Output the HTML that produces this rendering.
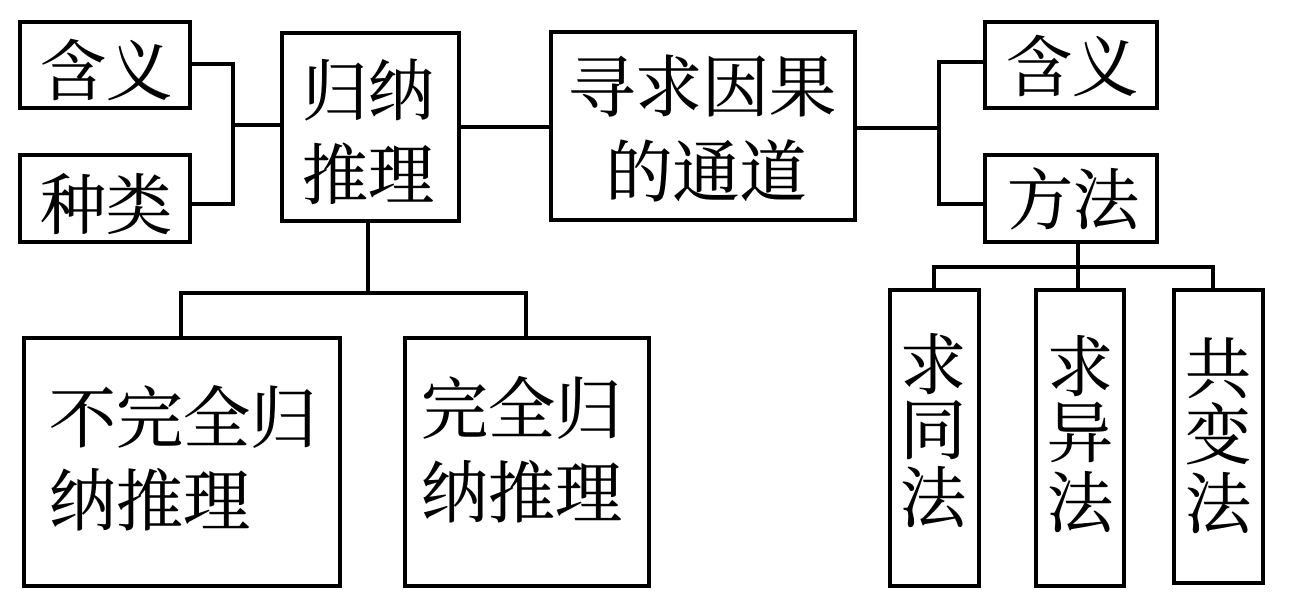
<!DOCTYPE html>
<html><head><meta charset="utf-8"><style>
html,body{margin:0;padding:0;background:#fff;width:1292px;height:615px;overflow:hidden}
svg text{font-family:"Noto Serif CJK SC","Liberation Serif",serif;font-weight:normal;fill:#000;stroke:#000;stroke-width:0.5px;dominant-baseline:central}
.c{text-anchor:middle}
</style></head><body>
<svg width="1292" height="615" viewBox="0 0 1292 615" xmlns="http://www.w3.org/2000/svg">
<g fill="none" stroke="#000" stroke-width="4">
<rect x="20" y="22" width="170" height="86"/>
<rect x="20" y="155" width="170" height="87"/>
<rect x="282" y="33" width="177" height="188"/>
<rect x="551" y="32" width="304" height="188"/>
<rect x="24" y="338" width="316" height="248"/>
<rect x="405" y="338" width="244" height="248"/>
<rect x="985" y="22" width="172" height="86"/>
<rect x="985" y="155" width="172" height="87"/>
<rect x="890" y="290" width="89" height="296"/>
<rect x="1036" y="290" width="88" height="296"/>
<rect x="1174" y="290" width="89" height="293"/>
<polyline points="190,64 233,64 233,204 190,204"/>
<line x1="233" y1="125" x2="282" y2="125"/>
<line x1="459" y1="127" x2="551" y2="127"/>
<line x1="368" y1="221" x2="368" y2="293"/>
<polyline points="181,338 181,293 526,293 526,338"/>
<line x1="855" y1="128" x2="939" y2="128"/>
<polyline points="985,62 939,62 939,204 985,204"/>
<line x1="1078" y1="242" x2="1078" y2="290"/>
<polyline points="934,290 934,267 1213,267 1213,290"/>
</g>
<text class="c" x="106" y="66" font-size="66">含义</text>
<text class="c" x="106" y="200" font-size="66">种类</text>
<text class="c" x="368" y="86" font-size="66">归纳</text>
<text class="c" x="368" y="170" font-size="66">推理</text>
<text class="c" x="702" y="83" font-size="67">寻求因果</text>
<text class="c" x="706" y="168" font-size="67">的通道</text>
<text x="49" y="414" font-size="67">不完全归</text>
<text x="49" y="497" font-size="67">纳推理</text>
<text x="421" y="405" font-size="67">完全归</text>
<text x="421" y="489" font-size="67">纳推理</text>
<text class="c" x="1072" y="62" font-size="66">含义</text>
<text class="c" x="1073" y="195" font-size="66">方法</text>
<text class="c" x="933" y="360" font-size="66">求</text>
<text class="c" x="933" y="425" font-size="66">同</text>
<text class="c" x="933" y="493" font-size="66">法</text>
<text class="c" x="1080" y="362" font-size="66">求</text>
<text class="c" x="1080" y="428" font-size="66">异</text>
<text class="c" x="1080" y="498" font-size="66">法</text>
<text class="c" x="1218" y="364" font-size="66">共</text>
<text class="c" x="1218" y="430" font-size="66">变</text>
<text class="c" x="1218" y="499" font-size="66">法</text>
</svg>
</body></html>
